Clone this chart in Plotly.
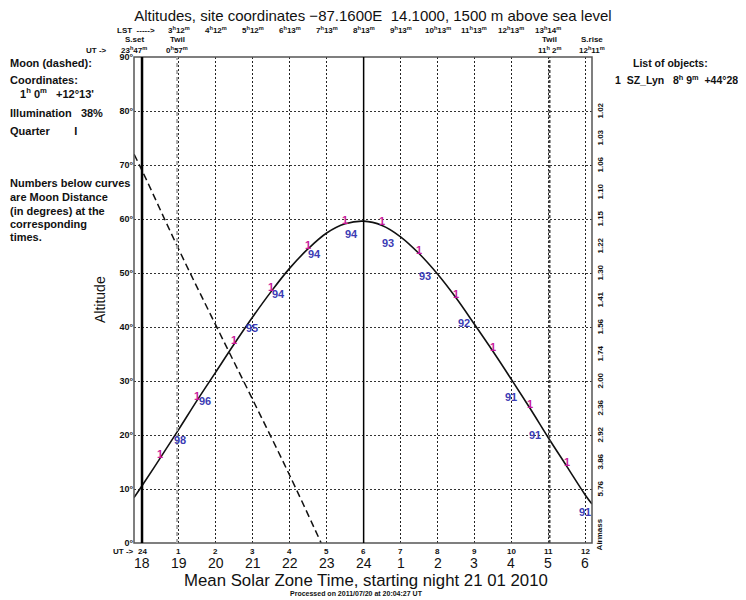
import plotly.graph_objects as go

# ---------------- data ----------------
# object 1 (SZ_Lyn) altitude vs UT hours (0 = 24h UT)
obj_ut = [-0.217, 0.0, 0.5, 1.0, 1.5, 2.0, 2.5, 3.0, 3.5, 4.0, 4.5, 5.0, 5.5, 6.0,
          6.5, 7.0, 7.5, 8.0, 8.5, 9.0, 9.5, 10.0, 10.5, 11.0, 11.5, 12.0, 12.183]
obj_alt = [8.4, 10.6, 15.8, 21.1, 26.5, 31.7, 36.9, 41.9, 46.6, 50.9, 54.5, 57.4, 59.1, 59.6,
           58.8, 56.7, 53.6, 49.8, 45.4, 40.5, 35.5, 30.3, 25.0, 19.5, 14.2, 8.9, 7.2]

# Moon (dashed)
moon_ut = [-0.217, 0.0, 1.0, 2.0, 3.0, 4.0, 4.85]
moon_alt = [72.0, 69.0, 54.3, 40.3, 26.5, 12.5, 0.0]

# Moon distance labels below the curve
dist_ut = [1.03, 1.71, 2.99, 3.69, 4.67, 5.68, 6.67, 7.67, 8.71, 9.99, 10.65, 12.0]
dist_alt = [19.1, 26.3, 39.9, 46.1, 53.5, 57.2, 55.6, 49.4, 40.7, 27.1, 20.0, 5.8]
dist_txt = ["98", "96", "95", "94", "94", "94", "93", "93", "92", "91", "91", "91"]

# axis labels
ut_ticks = list(range(0, 13))
ut_labels = ["24", "1", "2", "3", "4", "5", "6", "7", "8", "9", "10", "11", "12"]
local_labels = ["18", "19", "20", "21", "22", "23", "24", "1", "2", "3", "4", "5", "6"]
lst_ticks = list(range(1, 12))
lst_labels = ["3h12m", "4h12m", "5h12m", "6h13m", "7h13m", "8h13m", "9h13m",
              "10h13m", "11h13m", "12h13m", "13h14m"]
alt_ticks = [0, 10, 20, 30, 40, 50, 60, 70, 80, 90]
alt_labels = ["0°", "10°", "20°", "30°", "40°", "50°", "60°", "70°", "80°", "90°"]
airmass_alt = [10, 15, 20, 25, 30, 35, 40, 45, 50, 55, 60, 65, 70, 75, 80]
airmass_lbl = ["5.76", "3.86", "2.92", "2.36", "2.00", "1.74", "1.56", "1.41",
               "1.30", "1.22", "1.15", "1.10", "1.06", "1.03", "1.02"]

sunset_ut, twil_start_ut, midnight_ut, twil_end_ut, sunrise_ut = -0.217, 0.95, 6.0, 11.033, 12.183

# ---------------- figure ----------------
OFF = 8                      # page body margin of the html
W, H = 746 - OFF, 600 - OFF
L, R, T, B = 134 - OFF, 592 - OFF, 57 - OFF, 543 - OFF
FONT = "Liberation Sans, Arial, sans-serif"
MAG = "#c8199b"
BLUE = "#3c3cb4"
INK = "#111"


def hms(s):
    h, m = s.split("h")
    m = m.rstrip("m")
    return f"{h}<sup>h</sup>{m}<sup>m</sup>"


def px(xp):
    """reference pixel x -> paper x"""
    return (xp - OFF - L) / (R - L)


def py(yp):
    """reference pixel y -> paper y"""
    return (B - (yp - OFF)) / (B - T)


def f(size, bold=False, color=INK, family=FONT):
    d = dict(family=family, size=size, color=color)
    if bold:
        d["weight"] = "bold"
    return d


fig = go.Figure()

fig.add_trace(go.Scatter(x=obj_ut, y=obj_alt, mode="lines",
                         line=dict(color="#111", width=1.6, shape="spline"),
                         hoverinfo="skip", showlegend=False))
fig.add_trace(go.Scatter(x=moon_ut, y=moon_alt, mode="lines",
                         line=dict(color="#111", width=1.5, dash="7px,4px", shape="spline"),
                         hoverinfo="skip", showlegend=False))

annotations = []

# magenta object numbers at half hours on the curve
for u, a in zip(obj_ut, obj_alt):
    if abs(u - round(u)) == 0.5:
        annotations.append(dict(x=u, y=a, xref="x", yref="y", text="1", showarrow=False,
                                yshift=4, font=f(11, True, MAG)))
# blue moon distances
for u, a, t in zip(dist_ut, dist_alt, dist_txt):
    annotations.append(dict(x=u, y=a, xref="x", yref="y", text=t, showarrow=False,
                            font=f(11, True, BLUE)))

# bottom UT / local labels
for u, t1, t2 in zip(ut_ticks, ut_labels, local_labels):
    annotations.append(dict(x=u, y=0, xref="x", yref="paper", text=t1, showarrow=False,
                            yanchor="middle", yshift=-8, font=f(8, True)))
    annotations.append(dict(x=u, y=0, xref="x", yref="paper", text=t2, showarrow=False,
                            yanchor="middle", yshift=-20, font=f(14)))
annotations.append(dict(x=0, y=0, xref="paper", yref="paper", text="UT ->", showarrow=False,
                        xanchor="right", yanchor="middle", yshift=-8, xshift=2, font=f(8, True)))

# top LST row
for u, t in zip(lst_ticks, lst_labels):
    annotations.append(dict(x=u, y=1, xref="x", yref="paper", text=hms(t), showarrow=False,
                            yanchor="middle", yshift=27, font=f(8, True)))
annotations.append(dict(x=px(157), y=1, xref="paper", yref="paper", text="LST  ----->",
                        showarrow=False, xanchor="right", yanchor="middle", yshift=27,
                        font=f(8, True)))

# sunset / twilight / sunrise labels
for u, lab, tm in [(sunset_ut, "S.set", "23h47m"), (twil_start_ut, "Twil", "0h57m"),
                   (twil_end_ut, "Twil", "11h 2m"), (sunrise_ut, "S.rise", "12h11m")]:
    annotations.append(dict(x=u, y=1, xref="x", yref="paper", text=lab, showarrow=False,
                            yanchor="middle", yshift=18, font=f(8, True)))
    annotations.append(dict(x=u, y=1, xref="x", yref="paper", text=hms(tm), showarrow=False,
                            yanchor="middle", yshift=7, font=f(8, True)))
annotations.append(dict(x=px(109), y=1, xref="paper", yref="paper", text="UT ->", showarrow=False,
                        xanchor="right", yanchor="middle", yshift=7, font=f(8, True)))

# right airmass axis
for a, t in zip(airmass_alt, airmass_lbl):
    annotations.append(dict(x=1, y=a, xref="paper", yref="y", text=t, showarrow=False,
                            xanchor="left", yanchor="middle", xshift=1, textangle=-90,
                            font=f(8, True)))
annotations.append(dict(x=1, y=1.5, xref="paper", yref="y", text="Airmass", showarrow=False,
                        xanchor="left", yanchor="middle", xshift=1, textangle=-90,
                        font=f(8, True)))

# y axis title
annotations.append(dict(x=px(100), y=py(300), xref="paper", yref="paper", text="Altitude",
                        showarrow=False, textangle=-90, xanchor="center", yanchor="middle",
                        font=f(14)))

# left info block
left_lines = [
    ("Moon (dashed):", 8, 63),
    ("Coordinates:", 8, 80),
    ("1<sup>h</sup> 0<sup>m</sup>   +12°13'", 18, 93),
    ("Illumination   38%", 8, 113),
    ("Quarter        I", 8, 131),
    ("Numbers below curves", 8, 183),
    ("are Moon Distance", 8, 197),
    ("(in degrees) at the", 8, 211),
    ("corresponding", 8, 224),
    ("times.", 8, 237),
]
for t, xp, yp in left_lines:
    annotations.append(dict(x=px(xp), y=py(yp), xref="paper", yref="paper", text=t,
                            showarrow=False, xanchor="left", yanchor="middle", font=f(11, True)))

# right info block
annotations.append(dict(x=px(670), y=py(63), xref="paper", yref="paper", text="List of objects:",
                        showarrow=False, xanchor="center", yanchor="middle", font=f(10.5, True)))
annotations.append(dict(x=px(743), y=py(80), xref="paper", yref="paper",
                        text="1  SZ_Lyn   8<sup>h</sup> 9<sup>m</sup>  +44°28'",
                        showarrow=False, xanchor="right", yanchor="middle", font=f(10.5, True)))

# bottom titles
annotations.append(dict(x=px(366), y=py(580), xref="paper", yref="paper",
                        text="Mean Solar Zone Time, starting night 21 01 2010",
                        showarrow=False, xanchor="center", yanchor="middle", font=f(16.8)))
annotations.append(dict(x=px(356), y=py(593), xref="paper", yref="paper",
                        text="Processed on 2011/07/20 at 20:04:27 UT",
                        showarrow=False, xanchor="center", yanchor="middle", font=f(7, True)))

shapes = [
    # frame
    dict(type="rect", xref="paper", yref="paper", x0=0, x1=1, y0=0, y1=1,
         line=dict(color="#555", width=1.5)),
    # UT 0 thick line
    dict(type="line", xref="x", yref="paper", x0=0, x1=0, y0=0, y1=1,
         line=dict(color="#000", width=2.5)),
    # local midnight
    dict(type="line", xref="x", yref="paper", x0=midnight_ut, x1=midnight_ut, y0=0, y1=1,
         line=dict(color="#000", width=1.5)),
    # twilight lines
    dict(type="line", xref="x", yref="paper", x0=twil_start_ut, x1=twil_start_ut, y0=0, y1=1,
         line=dict(color="#aaa", width=2, dash="4px,3px")),
    dict(type="line", xref="x", yref="paper", x0=twil_end_ut, x1=twil_end_ut, y0=0, y1=1,
         line=dict(color="#444", width=2, dash="3px,2px")),
]

grid_x = [u for u in ut_ticks if u not in (0, 6)]

fig.update_layout(
    width=W, height=H,
    margin=dict(l=L, r=W - R, t=T, b=H - B),
    paper_bgcolor="white", plot_bgcolor="white",
    title=dict(text="Altitudes, site coordinates \u221287.1600E  14.1000, 1500 m above sea level",
               x=(373 - OFF) / W, xanchor="center", y=1 - (16 - OFF) / H, yanchor="middle",
               font=f(15)),
    xaxis=dict(range=[sunset_ut, sunrise_ut], tickvals=grid_x, showticklabels=False,
               showgrid=True, gridcolor="#222", griddash="2px,2px", gridwidth=1.3,
               zeroline=False, showline=False, ticks=""),
    yaxis=dict(range=[0, 90], tickvals=alt_ticks, ticktext=alt_labels,
               showgrid=True, gridcolor="#333", griddash="2px,2px", gridwidth=1.3,
               zeroline=False, showline=False, ticks="", tickfont=f(9, True)),
    annotations=annotations,
    shapes=shapes,
    showlegend=False,
)

fig.write_html("out.html")
